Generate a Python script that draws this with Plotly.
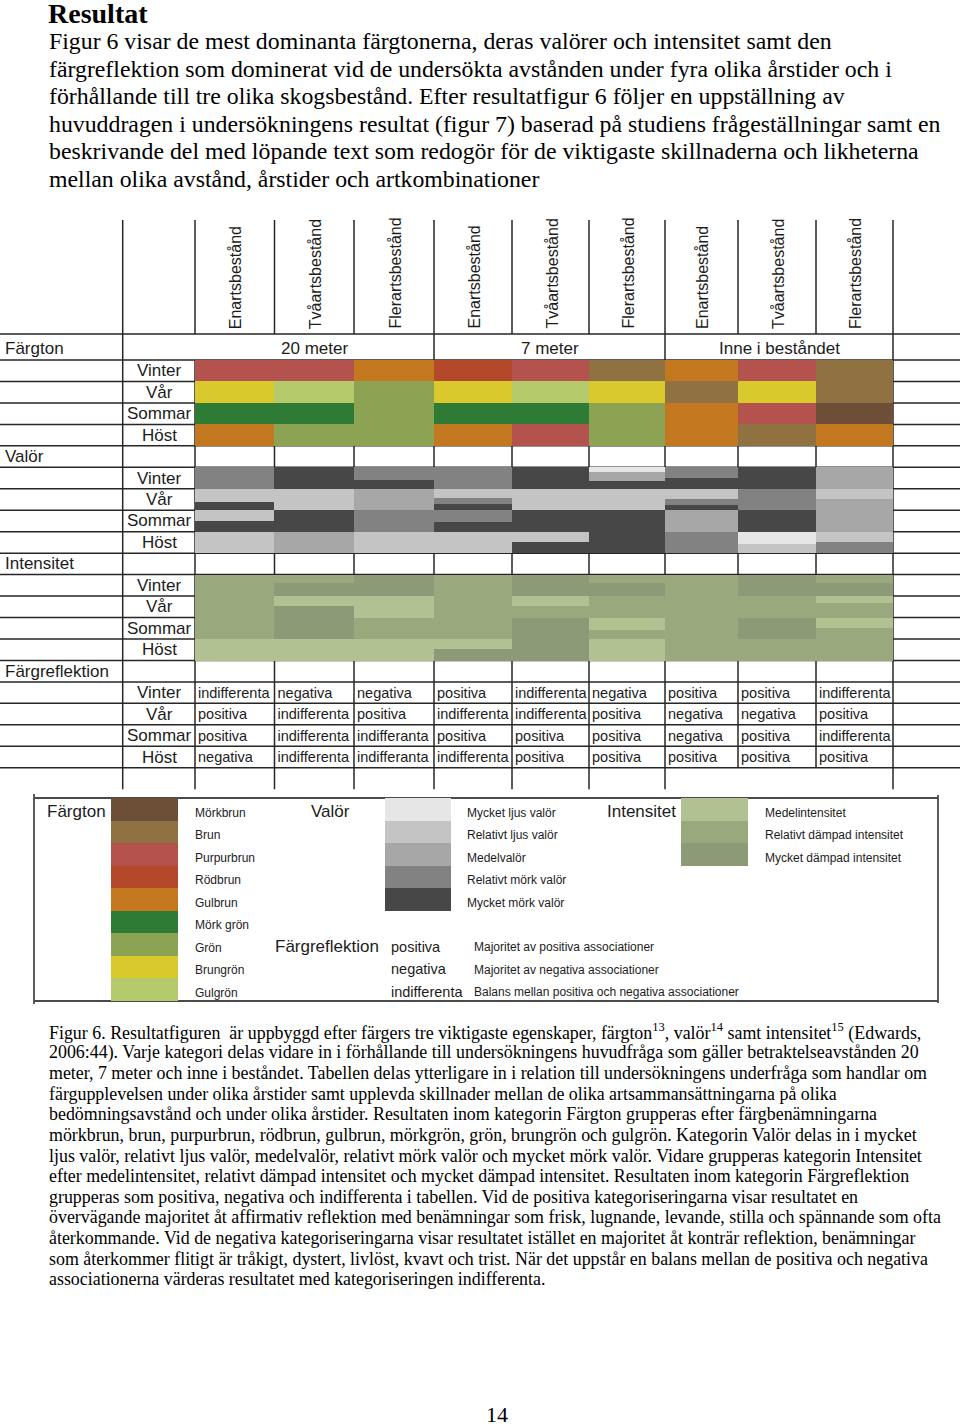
import plotly.graph_objects as go

# ---------------- categories ----------------
distances = ["20 meter", "7 meter", "Inne i beståndet"]
stands = ["Enartsbestånd", "Tvåartsbestånd", "Flerartsbestånd"]
seasons = ["Vinter", "Vår", "Sommar", "Höst"]
sections = ["Färgton", "Valör", "Intensitet", "Färgreflektion"]

# ---------------- legend categories ----------------
hue_names = ["Mörkbrun", "Brun", "Purpurbrun", "Rödbrun", "Gulbrun",
             "Mörk grön", "Grön", "Brungrön", "Gulgrön"]
hue_colors = ["#6d4e36", "#8f7142", "#b4524e", "#b4482b", "#c3771f",
              "#2e7b35", "#8ba352", "#d9c92c", "#b4ca6b"]

valor_codes = ["VL", "L", "M", "D", "VD"]
valor_names = ["Mycket ljus valör", "Relativt ljus valör", "Medelvalör",
               "Relativt mörk valör", "Mycket mörk valör"]
valor_colors = ["#e6e6e6", "#c4c4c4", "#a7a7a7", "#828282", "#474747"]

int_codes = ["M", "R", "Dm"]
int_names = ["Medelintensitet", "Relativt dämpad intensitet", "Mycket dämpad intensitet"]
int_colors = ["#b2c191", "#9aa97d", "#8d9a78"]

refl_names = ["positiva", "negativa", "indifferenta"]
refl_desc = ["Majoritet av positiva associationer",
             "Majoritet av negativa associationer",
             "Balans mellan positiva och negativa associationer"]

# ---------------- table values (9 columns: 20m E/T/F, 7m E/T/F, Inne E/T/F) ----------------
hue_vinter = ["Purpurbrun", "Purpurbrun", "Gulbrun", "Rödbrun", "Purpurbrun", "Brun",
              "Gulbrun", "Purpurbrun", "Brun"]
hue_var = ["Brungrön", "Gulgrön", "Grön", "Brungrön", "Gulgrön", "Brungrön",
           "Brun", "Brungrön", "Brun"]
hue_sommar = ["Mörk grön", "Mörk grön", "Grön", "Mörk grön", "Mörk grön", "Grön",
              "Gulbrun", "Purpurbrun", "Mörkbrun"]
hue_host = ["Gulbrun", "Grön", "Grön", "Gulbrun", "Purpurbrun", "Grön",
            "Gulbrun", "Brun", "Gulbrun"]

# valör: each cell = list of (class, share of the cell)
valor_vinter = [[("D", 1)], [("VD", 1)], [("D", .6), ("VD", .4)],
                [("D", 1)], [("VD", 1)], [("VL", .24), ("M", .4), ("VD", .36)],
                [("D", .5), ("VD", .5)], [("VD", 1)], [("M", 1)]]
valor_var = [[("L", .62), ("VD", .38)], [("L", 1)], [("M", 1)],
             [("L", .43), ("D", .3), ("VD", .27)], [("L", 1)], [("L", 1)],
             [("L", .46), ("D", .31), ("VD", .23)], [("D", 1)], [("L", .47), ("M", .53)]]
valor_sommar = [[("L", .5), ("VD", .5)], [("VD", 1)], [("D", 1)],
                [("D", .54), ("VD", .46)], [("VD", 1)], [("VD", 1)],
                [("M", 1)], [("VD", 1)], [("M", 1)]]
valor_host = [[("L", 1)], [("M", 1)], [("L", 1)],
              [("L", 1)], [("L", .5), ("VD", .5)], [("VD", 1)],
              [("D", 1)], [("VL", .58), ("L", .42)], [("L", .5), ("D", .5)]]

int_vinter = [[("R", 1)], [("R", .4), ("Dm", .6)], [("Dm", 1)],
              [("R", 1)], [("Dm", 1)], [("R", .4), ("Dm", .6)],
              [("R", 1)], [("Dm", 1)], [("R", .4), ("Dm", .6)]]
int_var = [[("R", 1)], [("M", .45), ("Dm", .55)], [("M", 1)],
           [("R", 1)], [("M", .45), ("R", .55)], [("R", 1)],
           [("R", 1)], [("R", 1)], [("M", .34), ("R", .66)]]
int_sommar = [[("R", 1)], [("Dm", 1)], [("R", 1)],
              [("R", 1)], [("Dm", 1)], [("M", .6), ("R", .4)],
              [("R", 1)], [("Dm", 1)], [("M", .5), ("R", .5)]]
int_host = [[("M", 1)], [("M", 1)], [("M", 1)],
            [("M", .45), ("Dm", .55)], [("Dm", 1)], [("M", 1)],
            [("R", 1)], [("R", 1)], [("R", 1)]]

refl_vinter = ["indifferenta", "negativa", "negativa", "positiva", "indifferenta", "negativa",
               "positiva", "positiva", "indifferenta"]
refl_var = ["positiva", "indifferenta", "positiva", "indifferenta", "indifferenta", "positiva",
            "negativa", "negativa", "positiva"]
refl_sommar = ["positiva", "indifferenta", "indifferanta", "positiva", "positiva", "positiva",
               "negativa", "positiva", "indifferenta"]
refl_host = ["negativa", "indifferenta", "indifferanta", "indifferenta", "positiva", "positiva",
             "positiva", "positiva", "positiva"]

# ---------------- page text ----------------
title_text = "Resultat"
intro_lines = [
    "Figur 6 visar de mest dominanta färgtonerna, deras valörer och intensitet samt den",
    "färgreflektion som dominerat vid de undersökta avstånden under fyra olika årstider och i",
    "förhållande till tre olika skogsbestånd. Efter resultatfigur 6 följer en uppställning av",
    "huvuddragen i undersökningens resultat (figur 7) baserad på studiens frågeställningar samt en",
    "beskrivande del med löpande text som redogör för de viktigaste skillnaderna och likheterna",
    "mellan olika avstånd, årstider och artkombinationer",
]
caption_lines = [
    "Figur 6. Resultatfiguren  är uppbyggd efter färgers tre viktigaste egenskaper, färgton<sup>13</sup>, valör<sup>14</sup> samt intensitet<sup>15</sup> (Edwards,",
    "2006:44). Varje kategori delas vidare in i förhållande till undersökningens huvudfråga som gäller betraktelseavstånden 20",
    "meter, 7 meter och inne i beståndet. Tabellen delas ytterligare in i relation till undersökningens underfråga som handlar om",
    "färgupplevelsen under olika årstider samt upplevda skillnader mellan de olika artsammansättningarna på olika",
    "bedömningsavstånd och under olika årstider. Resultaten inom kategorin Färgton grupperas efter färgbenämningarna",
    "mörkbrun, brun, purpurbrun, rödbrun, gulbrun, mörkgrön, grön, brungrön och gulgrön. Kategorin Valör delas in i mycket",
    "ljus valör, relativt ljus valör, medelvalör, relativt mörk valör och mycket mörk valör. Vidare grupperas kategorin Intensitet",
    "efter medelintensitet, relativt dämpad intensitet och mycket dämpad intensitet. Resultaten inom kategorin Färgreflektion",
    "grupperas som positiva, negativa och indifferenta i tabellen. Vid de positiva kategoriseringarna visar resultatet en",
    "övervägande majoritet åt affirmativ reflektion med benämningar som frisk, lugnande, levande, stilla och spännande som ofta",
    "återkommande. Vid de negativa kategoriseringarna visar resultatet istället en majoritet åt konträr reflektion, benämningar",
    "som återkommer flitigt är tråkigt, dystert, livlöst, kvavt och trist. När det uppstår en balans mellan de positiva och negativa",
    "associationerna värderas resultatet med kategoriseringen indifferenta.",
]
page_number = "14"

# ---------------- layout geometry (page pixels) ----------------
W, H = 960, 1427
col_edges = [195, 274.5, 354, 434, 512, 589, 665, 738, 816, 893]
label_left, label_right = 122.7, 195
head_top, table_top, first_row, row_h = 220, 334, 360, 21.46
SANS = "Liberation Sans, Arial, sans-serif"
SERIF = "Liberation Serif, Times New Roman, serif"
INK = "#1c1c1c"
LINE = "#262626"


def row_top(i):
    return table_top if i == 0 else first_row + (i - 1) * row_h


def col_mid(c):
    return (col_edges[c] + col_edges[c + 1]) / 2


fig = go.Figure()


def stripe_trace(tables, cmap, sec):
    xs, ws, bs, hs, cs = [], [], [], [], []
    for s, row in enumerate(tables):
        i = sec * 5 + 1 + s
        top, h = row_top(i), row_top(i + 1) - row_top(i)
        for c, cell in enumerate(row):
            y = top
            for code, frac in cell:
                xs.append(col_mid(c))
                ws.append(col_edges[c + 1] - col_edges[c] + 0.6)
                bs.append(y)
                hs.append(h * frac + 0.3)
                cs.append(cmap[code])
                y += h * frac
    fig.add_trace(go.Bar(x=xs, y=hs, base=bs, width=ws,
                         marker=dict(color=cs, line=dict(width=0)),
                         hoverinfo="skip", showlegend=False))


hue_map = dict(zip(hue_names, hue_colors))
valor_map = dict(zip(valor_codes, valor_colors))
int_map = dict(zip(int_codes, int_colors))

stripe_trace([[[(v, 1)] for v in r] for r in (hue_vinter, hue_var, hue_sommar, hue_host)], hue_map, 0)
stripe_trace([valor_vinter, valor_var, valor_sommar, valor_host], valor_map, 1)
stripe_trace([int_vinter, int_var, int_sommar, int_host], int_map, 2)

# Färgreflektion text cells
tx, ty, tt = [], [], []
for s, row in enumerate([refl_vinter, refl_var, refl_sommar, refl_host]):
    i = 15 + 1 + s
    for c, val in enumerate(row):
        tx.append(col_edges[c] + 3)
        ty.append((row_top(i) + row_top(i + 1)) / 2 + 1.5)
        tt.append(val)
fig.add_trace(go.Scatter(x=tx, y=ty, text=tt, mode="text", textposition="middle right",
                         textfont=dict(family=SANS, size=14.5, color=INK),
                         hoverinfo="skip", showlegend=False))

# ---------------- legend swatches ----------------
sw_h = 22.5
leg_top = 798


def swatch_trace(colors, x0, x1):
    n = len(colors)
    fig.add_trace(go.Bar(x=[(x0 + x1) / 2] * n, y=[sw_h + 0.3] * n,
                         base=[leg_top + k * sw_h for k in range(n)], width=[x1 - x0] * n,
                         marker=dict(color=colors, line=dict(width=0)),
                         hoverinfo="skip", showlegend=False))


swatch_trace(hue_colors, 111, 177.5)
swatch_trace(valor_colors, 385, 451)
swatch_trace(int_colors, 680.5, 747.5)

# ---------------- grid lines ----------------
shapes = []


def hline(y, x0, x1, w=1.5, col=LINE):
    shapes.append(dict(type="line", x0=x0, x1=x1, y0=y, y1=y, xref="x", yref="y",
                       line=dict(color=col, width=w), layer="below"))


def vline(x, y0, y1, w=1.5, col=LINE):
    shapes.append(dict(type="line", x0=x, x1=x, y0=y0, y1=y1, xref="x", yref="y",
                       line=dict(color=col, width=w), layer="below"))


for i in range(0, 21):
    hline(row_top(i), 0, W)
bottom_lines = row_top(20) + 21.5
for x in [label_left, col_edges[3], col_edges[6], col_edges[9]]:
    vline(x, head_top, bottom_lines)
for x in [col_edges[0], col_edges[1], col_edges[2], col_edges[4], col_edges[5]]:
    vline(x, head_top, table_top)
    vline(x, first_row, bottom_lines)
for x in [col_edges[7], col_edges[8]]:
    vline(x, head_top, table_top)
    vline(x, first_row, row_top(20))

# legend frame
hline(leg_top, 34, 938, 1.8, "#4a4a4a")
hline(1001, 34, 938, 1.8, "#4a4a4a")
vline(34, 794, 1004, 1.8, "#4a4a4a")
vline(938, 795, 1003, 1.8, "#4a4a4a")

# ---------------- annotations ----------------
ann = []


def text(x, y, s, size, family=SANS, xanchor="left", color=INK, angle=0, yanchor="middle"):
    ann.append(dict(x=x, y=y, xref="x", yref="y", text=s, showarrow=False,
                    xanchor=xanchor, yanchor=yanchor, textangle=angle,
                    font=dict(family=family, size=size, color=color)))


# page text
text(46, 13, "<b>" + title_text + "</b>", 28, SERIF, color="#000")
for k, line in enumerate(intro_lines):
    text(47, 41 + k * 27.5, line, 23.8, SERIF, color="#000")
for k, line in enumerate(caption_lines):
    text(47, 1032 + k * 20.6, line, 17.9, SERIF, color="#000")
text(497, 1414, page_number, 22, SERIF, xanchor="center", color="#000")

# column headers
for d in range(3):
    for s in range(3):
        c = d * 3 + s
        text(col_mid(c) + 1, table_top - 3, stands[s], 16, angle=-90,
             xanchor="center", yanchor="bottom")
    text((col_edges[d * 3] + col_edges[d * 3 + 3]) / 2, 348, distances[d], 17, xanchor="center")

# section and season labels
for g, sec in enumerate(sections):
    i = g * 5
    text(3, (row_top(i) + row_top(i + 1)) / 2 + (1 if g == 0 else 0), sec, 17)
    for s, sea in enumerate(seasons):
        j = i + 1 + s
        text((label_left + label_right) / 2 + 0.5, (row_top(j) + row_top(j + 1)) / 2,
             sea, 17, xanchor="center")

# legend labels
text(45, 811.5, "Färgton", 17)
text(309, 811.5, "Valör", 17)
text(605, 811.5, "Intensitet", 17)
text(273, 946, "Färgreflektion", 17)
for k, nm in enumerate(hue_names):
    text(193, 812.5 + k * sw_h, nm, 12)
for k, nm in enumerate(valor_names):
    text(465, 812.5 + k * sw_h, nm, 12)
for k, nm in enumerate(int_names):
    text(763, 812.5 + k * sw_h, nm, 12)
for k, (nm, ds) in enumerate(zip(refl_names, refl_desc)):
    text(389, 946.5 + k * sw_h, nm, 14.5)
    text(472, 947 + k * sw_h, ds, 12)

fig.update_layout(
    width=W, height=H, margin=dict(l=0, r=0, t=0, b=0),
    paper_bgcolor="white", plot_bgcolor="white",
    barmode="overlay", bargap=0,
    xaxis=dict(range=[0, W], visible=False, fixedrange=True),
    yaxis=dict(range=[H, 0], visible=False, fixedrange=True),
    shapes=shapes, annotations=ann, showlegend=False,
)

# remove the browser's default 8px body margin so page pixels map 1:1; hide the modebar
fig.write_html("out.html", config={"displayModeBar": False},
               post_script="document.body.style.margin='0px';")
